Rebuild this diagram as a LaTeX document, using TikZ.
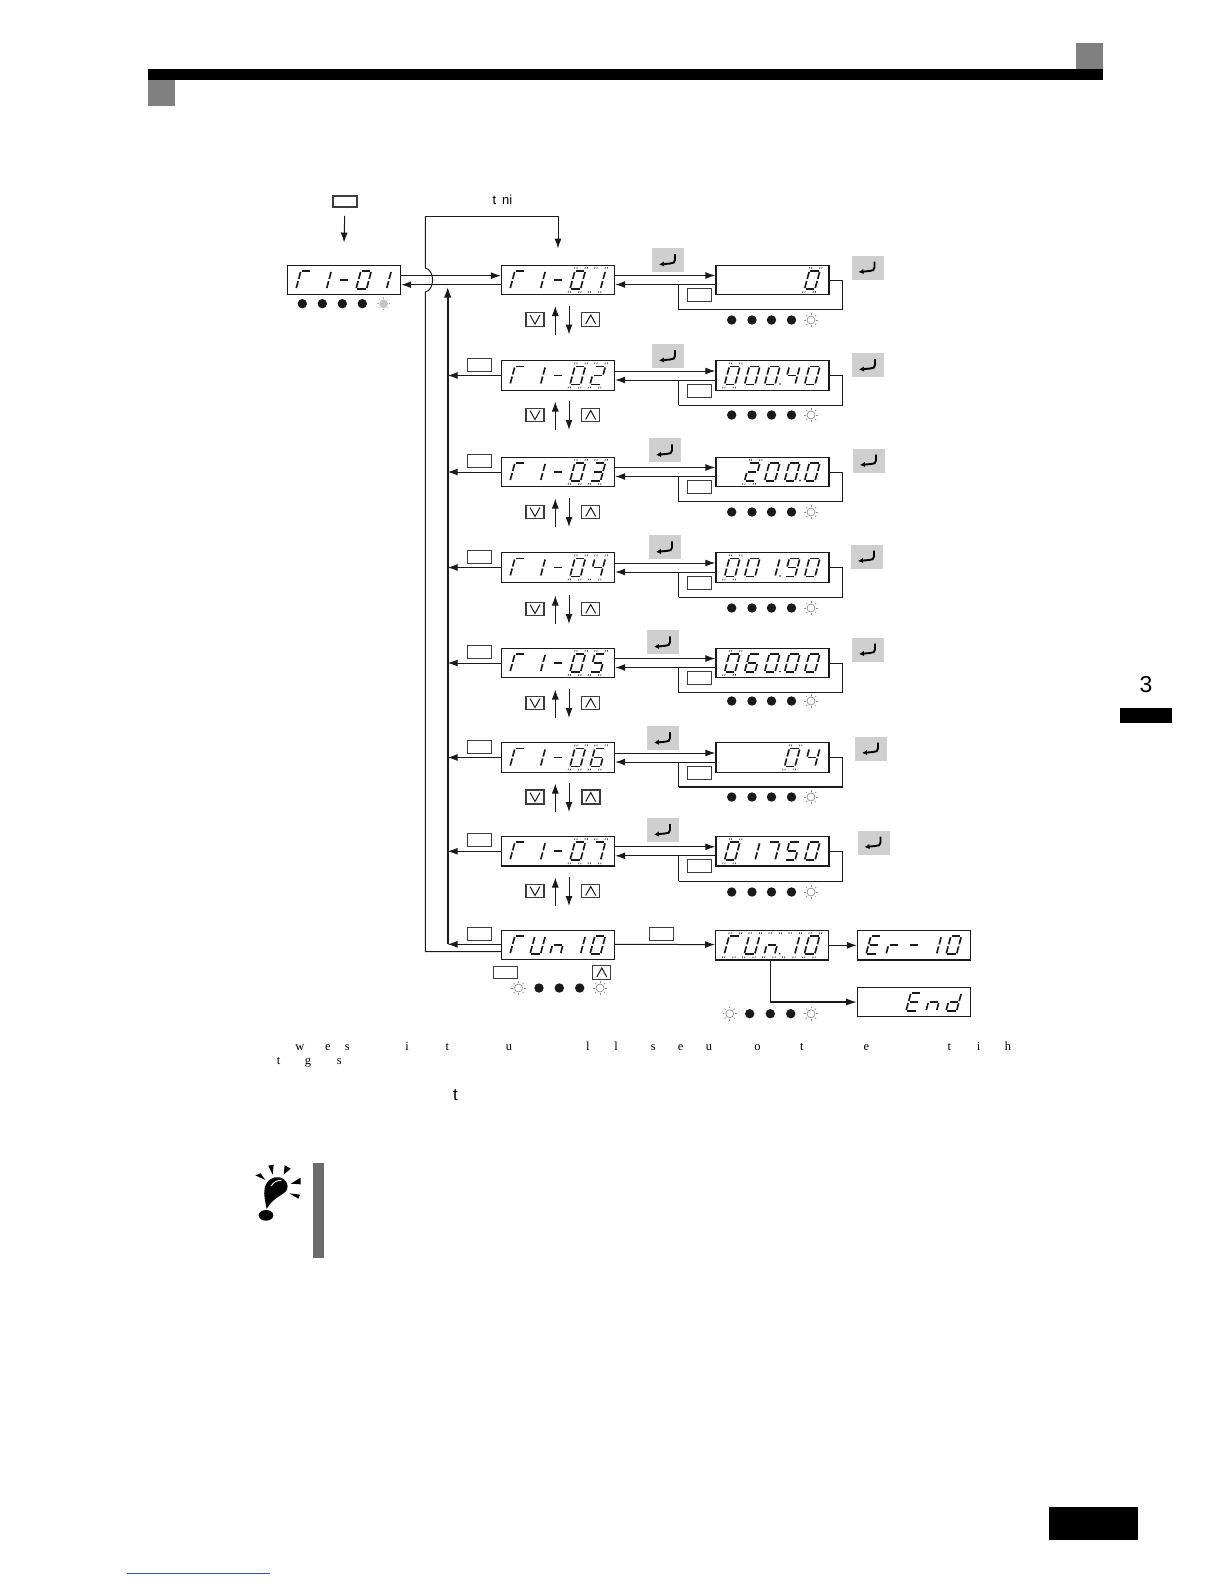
\documentclass[tikz,border=0pt]{standalone}
\usepackage{fontspec}
\setmainfont{Liberation Serif}
\newfontfamily\sansf{Liberation Sans}
\usetikzlibrary{arrows.meta,calc}
\definecolor{ink}{HTML}{1A1A1A}
\definecolor{keygray}{HTML}{CFCFCF}
\definecolor{bargray}{HTML}{808080}
\definecolor{stripgray}{HTML}{6B6B6B}
\definecolor{linkblue}{HTML}{3A55B0}
\tikzset{
  x=1pt,y=-1pt,
  lcdbox/.style={draw=ink,line width=1.4pt,minimum width=113pt,minimum height=29.5pt,inner sep=0pt},
  segline/.style={draw=ink,line width=1.65pt},
  tickline/.style={draw=ink!85,line width=.7pt},
  conn/.style={draw=ink,line width=1pt},
  arr/.style={conn,-{Latex[length=10pt,width=7pt]}},
  thickarr/.style={draw=ink,line width=2pt,-{Latex[length=11pt,width=7.5pt]}},
  blankkey/.style={draw=ink!85,line width=1pt,minimum width=24pt,minimum height=13pt,inner sep=0pt},
  arrowkey/.style={draw=ink!85,line width=1.1pt,minimum width=18pt,minimum height=13.5pt,inner sep=0pt},
  boldkey/.style={arrowkey,line width=1.9pt},
  chevron/.style={draw=ink,line width=1pt},
  capfont/.style={font=\fontsize{12.5}{14}\selectfont,inner sep=0pt},
  sansfont/.style={font=\sansf\fontsize{13}{15}\selectfont,inner sep=0pt},
  pics/enterkey/.style={code={
    \fill[keygray] (-16,-12) rectangle (16,12);
    \draw[black,line width=1.9pt,-{Latex[length=5pt,width=5.5pt]}] (7,-6) -- (7,0) .. controls (7,2.5) and (5,3.5) .. (2,3.5) -- (-9,4.5);
  }},
  pics/ledon/.style={code={\fill[ink] (0,0) circle (4.7);}},
  pics/ledsun/.style={code={
    \draw[ink!55,line width=.6pt] (0,0) circle (4);
    \foreach \a in {0,45,...,315}{\draw[ink!50,line width=.7pt] (\a:5.4) -- (\a:7.2);}
  }},
  pics/ledgray/.style={code={
    \fill[ink!25] (0,0) circle (4.4);
    \foreach \a in {0,45,...,315}{\draw[ink!35,line width=.5pt] (\a:5.2) -- (\a:6.4);}
  }},
}
% seven-segment pieces, origin at lower left of a digit
\def\sega{(1,-18) -- (9.6,-18)}
\def\segb{(10.5,-17) -- (10.5,-10)}
\def\segc{(10.5,-8) -- (10.5,-1)}
\def\segd{(1,0) -- (9.6,0)}
\def\sege{(0,-8) -- (0,-1)}
\def\segf{(0,-17) -- (0,-10)}
\def\segg{(1.2,-9) -- (9.4,-9)}
\expandafter\def\csname gl0\endcsname{a,b,c,d,e,f}
\expandafter\def\csname gl1\endcsname{b,c}
\expandafter\def\csname gl2\endcsname{a,b,g,e,d}
\expandafter\def\csname gl3\endcsname{a,b,g,c,d}
\expandafter\def\csname gl4\endcsname{f,g,b,c}
\expandafter\def\csname gl5\endcsname{a,f,g,c,d}
\expandafter\def\csname gl6\endcsname{a,f,g,e,c,d}
\expandafter\def\csname gl7\endcsname{a,b,c}
\expandafter\def\csname gl9\endcsname{a,b,c,d,f,g}
\expandafter\def\csname glF\endcsname{a,f,e}
\expandafter\def\csname glU\endcsname{f,e,d,c,b}
\expandafter\def\csname gln\endcsname{e,g,c}
\expandafter\def\csname glE\endcsname{a,f,g,e,d}
\expandafter\def\csname glr\endcsname{e,g}
\expandafter\def\csname gld\endcsname{b,c,d,e,g}
\expandafter\def\csname glm\endcsname{g}
\newcommand\lcddigit[4]{%
  \edef\seglist{\csname gl#4\endcsname}%
  \begin{scope}[shift={({#1+8.5+20*#3},{#2+9})},xslant=.27]
    \foreach \s in \seglist {%
      \expandafter\let\expandafter\segp\csname seg\s\endcsname
      \draw[segline] \segp;
    }
  \end{scope}%
}
\newcommand\lcd[4]{%
  \node[lcdbox] (#1) at ({#2+56.5},#3) {};
  \foreach \idx/\gl in {#4}{\lcddigit{#2}{#3}{\idx}{\gl}}
}
\newcommand\blinks[3]{%
  \foreach \idx in {#3}{%
    \begin{scope}[shift={({#1+8.5+20*\idx},{#2+9})},xslant=.27]
      \foreach \px in {0.2,10.6}{%
        \draw[tickline] (\px-1.1,-20.3) -- ++(0,-1.7);
        \draw[tickline] (\px+1.1,-20.3) -- ++(0,-1.7);
        \draw[tickline] (\px-1.1,2.2) -- ++(0,1.6);
        \draw[tickline] (\px+1.1,2.2) -- ++(0,1.6);
      }
    \end{scope}
  }
}
\newcommand\lcddot[3]{\fill[ink] ({#1+8.5+20*#3+15.5},{#2+8.5}) circle (.8);}
\newcommand\vkey[4][arrowkey]{%
  \node[#1] (#2) at (#3,#4) {};
  \draw[chevron] ($(#2)+(-5,-4.5)$) -- ($(#2)+(0,4.5)$) -- ($(#2)+(5,-4.5)$);
}
\newcommand\ukey[4][arrowkey]{%
  \node[#1] (#2) at (#3,#4) {};
  \draw[chevron] ($(#2)+(-5,4.5)$) -- ($(#2)+(0,-4.5)$) -- ($(#2)+(5,4.5)$);
}
\newcommand\ledrow[7]{%
  \pic at (#2,#7) {#1};
  \pic at (#3,#7) {ledon};
  \pic at (#4,#7) {ledon};
  \pic at (#5,#7) {ledon};
  \pic at (#6,#7) {ledsun};
}
\begin{document}
\begin{tikzpicture}
\useasboundingbox (0,0) rectangle (1224,1584);
% page furniture
\fill[bargray] (1076,43) rectangle (1103,69);
\fill[bargray] (148,80) rectangle (175,106);
\fill[black] (148,69) rectangle (1103,80);
\fill[black] (1120,708) rectangle (1171.5,723);
\fill[black] (1048.5,1507) rectangle (1138,1540);
\draw[linkblue,line width=.9pt] (127,1573.5) -- (270,1573.5);
\node[font=\sansf\fontsize{23}{25}\selectfont,inner sep=0pt] (chapno) at (1146,685) {3};

% first display and key above it
\lcd{L}{287.5}{280}{0/F,1/1,2/m,3/0,4/1}
\node[blankkey,line width=1.8pt,minimum height=11pt] (ktop) at (344.7,201.5) {};
\draw[arr] ([yshift=-8pt]ktop.south) -- ([yshift=22pt]L.north);
\node[sansfont] (topcap) at (502.5,200) {t\hspace{6pt}ni};
\pic at (302.3,303.7) {ledon};
\pic at (322.3,303.7) {ledon};
\pic at (342.3,303.7) {ledon};
\pic at (362.3,303.7) {ledon};
\pic at (383.7,303.7) {ledgray};

% parameter column
\lcd{R1}{501.5}{280}{0/F,1/1,2/m,3/0,4/1}\blinks{501.5}{280}{3,4}
\lcd{R2}{501.5}{375.5}{0/F,1/1,2/m,3/0,4/2}\blinks{501.5}{375.5}{3,4}
\lcd{R3}{501.5}{472}{0/F,1/1,2/m,3/0,4/3}\blinks{501.5}{472}{3,4}
\lcd{R4}{501.5}{567.5}{0/F,1/1,2/m,3/0,4/4}\blinks{501.5}{567.5}{3,4}
\lcd{R5}{501.5}{663}{0/F,1/1,2/m,3/0,4/5}\blinks{501.5}{663}{3,4}
\lcd{R6}{501.5}{757.5}{0/F,1/1,2/m,3/0,4/6}\blinks{501.5}{757.5}{3,4}
\lcd{R7}{501.5}{851.3}{0/F,1/1,2/m,3/0,4/7}\blinks{501.5}{851.3}{3,4}
\lcd{R8}{501.5}{945}{0/F,1/U,2/n,3/1,4/0}

% value column
\lcd{V1}{716}{280}{4/0}\blinks{716}{280}{4}
\lcd{V2}{716}{375.5}{0/0,1/0,2/0,3/4,4/0}\blinks{716}{375.5}{0}\lcddot{716}{375.5}{2}
\lcd{V3}{716}{472}{1/2,2/0,3/0,4/0}\blinks{716}{472}{1}\lcddot{716}{472}{3}
\lcd{V4}{716}{567.5}{0/0,1/0,2/1,3/9,4/0}\blinks{716}{567.5}{0}\lcddot{716}{567.5}{2}
\lcd{V5}{716}{663}{0/0,1/6,2/0,3/0,4/0}\blinks{716}{663}{0}\lcddot{716}{663}{2}
\lcd{V6}{716}{757.5}{3/0,4/4}\blinks{716}{757.5}{3}
\lcd{V7}{716}{851.3}{0/0,1/1,2/7,3/5,4/0}\blinks{716}{851.3}{0}

% last row
\lcd{M8}{715.7}{945.3}{0/F,1/U,2/n,3/1,4/0}\blinks{715.7}{945.3}{0,1,2,3,4}\lcddot{715.7}{945.3}{2}
\lcd{E8}{857.5}{945.3}{0/E,1/r,2/m,3/1,4/0}
\lcd{End}{857.5}{1002}{2/E,3/n,4/d}

% L <-> R1
\draw[arr] ([yshift=4.3pt]L.east) -- ([yshift=4.3pt]R1.west);
\draw[arr] ([yshift=-4.7pt]R1.west) -- ([yshift=-4.7pt]L.east);

% forward / return / edit loop of every row
\foreach \n/\lw in {1/1,2/1,3/1,4/1,5/1,6/2.2,7/1}{
  \draw[arr] ([yshift=4.5pt]R\n.east) -- ([yshift=4.5pt]V\n.west);
  \draw[arr] ([yshift=-4.5pt]V\n.west) -- ([yshift=-4.5pt]R\n.east);
  \draw[conn] (V\n.east) -- ++(13,0) -- ++(0,29.8);
  \draw[draw=ink,line width=\lw pt] ($(V\n.east)+(13,29.8)$) -- ++(-164,0);
  \draw[conn] ($(V\n.east)+(-151,29.8)$) -- ++(0,-25.3);
  \node[blankkey] (kv\n) at ($(V\n.center)+(-73.5,15)$) {};
}
% keys and return arrows on the left of rows 2..8
\coordinate (tkt) at (447.7,286.5);
\coordinate (tkb) at (447.7,944.3);
\foreach \n in {2,3,4,5,6,7}{
  \node[blankkey] (kr\n) at ($(R\n.center)+(-78.5,-11)$) {};
  \draw[arr] (R\n.west) -- (R\n.west -| tkt);
}
\node[blankkey] (kr8) at ($(R8.center)+(-78.5,-11)$) {};
\draw[thickarr] (tkb) -- (tkt);
\draw[arr] ([yshift=.7pt]R8.west) -- ([yshift=.7pt]R8.west -| tkt);
% outer return column with its hop over the L/R1 lines
\coordinate (cb) at (425.3,951.5);
\coordinate (h1) at (425.3,292);
\coordinate (h2) at (425.3,268);
\coordinate (ct) at (425.3,216.3);
\draw[conn] ([yshift=-6.5pt]R8.west) -- (cb) -- (h1) .. controls (435,290) and (435,270) .. (h2) -- (ct);
\draw[arr] (ct) -| ([yshift=16pt]R1.north);

% up/down keys and arrows
\foreach \n/\yy in {1/319.5,2/415,3/512,4/609,5/703,7/891}{
  \vkey{kd\n}{535}{\yy}
  \ukey{ku\n}{590.7}{\yy}
}
\vkey[boldkey]{kd6}{535}{797}
\ukey[boldkey]{ku6}{590.7}{797}
\foreach \n in {1,2,3,4,5,6,7}{
  \draw[arr] ($(kd\n)+(20.3,15)$) -- ($(kd\n)+(20.3,-13.5)$);
  \draw[arr] ($(ku\n)+(-21.7,-14)$) -- ($(ku\n)+(-21.7,15)$);
}

% lamps of the value column
\foreach \yy in {320,415,512,608,701,797,892}{
  \ledrow{ledon}{731.7}{752}{771.5}{791.5}{811}{\yy}
}
% enter keys
\foreach \xx/\yy in {668/260,867.5/267.5,668/356,868/365,665/450.4,869/460.5,665/547.4,867/556.5,663/642.3,868/649.5,663/738.2,871/748.5,663/830,873.5/842.5}{
  \pic at (\xx,\yy) {enterkey};
}

% last row connectors and keys
\node[blankkey] (kstart) at (661.5,933.7) {};
\draw[arr] ([yshift=.7pt]R8.east) -- ([yshift=.7pt]M8.west);
\draw[arr] (M8.east) -- (E8.west);
\draw[thickarr,line width=1.6pt] ([xshift=-1.9pt]M8.south) |- (End.west);
\node[blankkey,minimum height=12.5pt] (kshift) at (505,972.5) {};
\ukey{kup}{601.8}{972.5}
\pic at (518.5,988) {ledsun};
\pic at (539,988) {ledon};
\pic at (559.3,988) {ledon};
\pic at (579.7,988) {ledon};
\pic at (600,988) {ledsun};
\pic at (729.7,1013.7) {ledsun};
\pic at (749.7,1013.7) {ledon};
\pic at (770.3,1013.7) {ledon};
\pic at (790.7,1013.7) {ledon};
\pic at (811,1013.7) {ledsun};

% scattered caption letters
\foreach \i/\xx/\ch in {1/300/w,2/328/e,3/347.4/s,4/407/i,5/447.4/t,6/509/u,7/587.8/l,8/616/l,9/653.4/s,10/680.7/e,11/709/u,12/757.4/o,13/801.9/t,14/866.5/e,15/949.3/t,16/978.6/i,17/1007.9/h}{
  \node[capfont,anchor=base] (capa\i) at (\xx,1050.5) {\ch};
}
\foreach \i/\xx/\ch in {1/278.7/t,2/308/g,3/339.3/s}{
  \node[capfont,anchor=base] (capb\i) at (\xx,1064.5) {\ch};
}
\node[font=\sansf\fontsize{17}{19}\selectfont,inner sep=0pt] (midt) at (455.6,1095) {t};

% note icon and strip
\fill[stripgray] (313,1163) rectangle (324,1258);
\begin{scope}[shift={(240,1060)},x=.3333pt,y=-.3333pt]
  \fill[black] (46,346) -- (62,340) -- (76,360) -- cycle;
  \fill[black] (85,317) -- (101,314) -- (98,344) -- cycle;
  \fill[black] (134,316) -- (152,326) -- (131,344) -- cycle;
  \fill[black] (182,353) -- (182,373) -- (152,371) -- cycle;
  \fill[black] (148,400) -- (180,404) -- (175,416) -- cycle;
  \fill[black] (80,447) .. controls (76,425) and (70,405) .. (74,385) .. controls (79,360) and (100,348) .. (119,352) .. controls (138,356) and (147,375) .. (141,389) .. controls (132,406) and (100,410) .. (80,447) -- cycle;
  \draw[white,line width=.9pt] (94,378) .. controls (100,366) and (112,360) .. (124,362);
  \fill[black] (78,466) ellipse [x radius=22,y radius=16];
\end{scope}
\end{tikzpicture}
\end{document}
